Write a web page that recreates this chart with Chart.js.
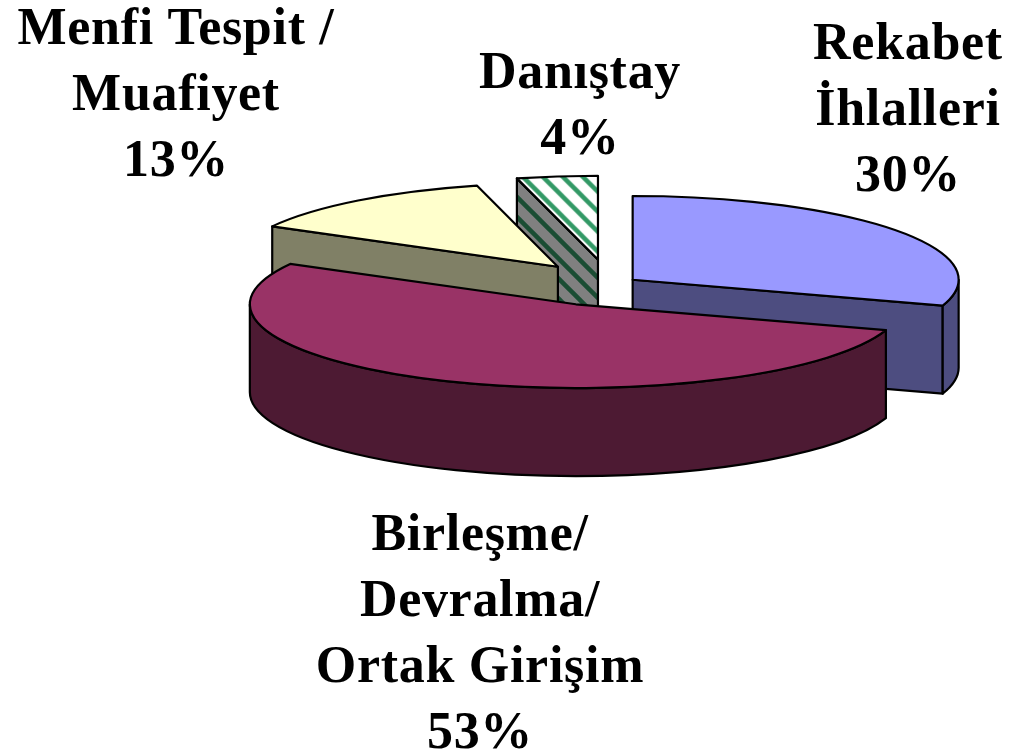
<!DOCTYPE html>
<html>
<head>
<meta charset="utf-8">
<script src="https://cdn.jsdelivr.net/npm/chart.js@4/dist/chart.umd.min.js"></script>
<style>
html, body { margin: 0; background: #fff; }
canvas { display: block; }
</style>
</head>
<body>
<canvas id="c" width="1010" height="755" style="width:1010px;height:755px"></canvas>
<script>
var categories = [
	["Rekabet", "İhlalleri"],
	["Birleşme/", "Devralma/", "Ortak Girişim"],
	["Menfi Tespit /", "Muafiyet"],
	["Danıştay"]
];
var values = [30, 53, 13, 4];

var topColors = ["#9999ff", "#993366", "#ffffcc", null];
var sideColors = ["#4d4d80", "#4d1a33", "#808066", null];
var explode = [28, 86, 85, 96]; // px on the page

// where the flattened pie goes on the page
var PIE_X = 610, PIE_Y = 284, PIE_RX = 326, TILT = 0.257, DEPTH = 88;
var drawOrder = [3, 2, 0, 1]; // back to front
var labelPos = [[908, 59], [480, 550], [176, 44], [580, 88]]; // first baseline
var LINE_H = 66;

function stripes(bg, fg) {
	var T = 20, p = document.createElement("canvas");
	p.width = T;
	p.height = T;
	var g = p.getContext("2d");
	g.fillStyle = bg;
	g.fillRect(0, 0, T, T);
	g.strokeStyle = fg;
	g.lineWidth = 4.5;
	for(var i = -1; i <= 1; i++) {
		g.beginPath();
		g.moveTo(i * T - T, -T);
		g.lineTo(i * T + 2 * T, 2 * T);
		g.stroke();
	}
	return g.createPattern(p, "repeat");
}

var hatchTop = stripes("#ffffff", "#339966");
var hatchSide = stripes("#808080", "#1a4d33");
topColors[3] = hatchTop;
sideColors[3] = hatchSide;

var pie3d = {
	id: "pie3d",
	beforeDatasetsDraw: function(chart) {
		var ctx = chart.ctx;
		var arcs = chart.getDatasetMeta(0).data;
		var s = PIE_RX / arcs[0].outerRadius;
		hatchTop.setTransform(new DOMMatrix().scale(1 / s, 1 / (s * TILT)));

		drawOrder.forEach(function(i) {
			var arc = arcs[i];
			var a0 = arc.startAngle, a1 = arc.endAngle;
			var mid = (a0 + a1) / 2;
			var ax = PIE_X + Math.cos(mid) * explode[i];
			var ay = PIE_Y + Math.sin(mid) * explode[i] * TILT;
			var ry = PIE_RX * TILT;
			var rim = function(a) {
				return [ax + PIE_RX * Math.cos(a), ay + ry * Math.sin(a)];
			};

			ctx.save();
			ctx.lineWidth = 2.2;
			ctx.lineJoin = "round";
			ctx.strokeStyle = "#000";
			ctx.fillStyle = sideColors[i];

			// cut faces that look at the viewer
			var m = rim(mid);
			[a0, a1].forEach(function(a) {
				var p = rim(a);
				if(Math.abs(p[0] - ax) < 1) return;
				var lineY = ay + (p[1] - ay) * (m[0] - ax) / (p[0] - ax);
				if(lineY < m[1]) return;
				ctx.beginPath();
				ctx.moveTo(ax, ay);
				ctx.lineTo(p[0], p[1]);
				ctx.lineTo(p[0], p[1] + DEPTH);
				ctx.lineTo(ax, ay + DEPTH);
				ctx.closePath();
				ctx.fill();
				ctx.stroke();
			});

			// outer wall, front half only
			var r0 = Math.max(a0, 0), r1 = Math.min(a1, Math.PI);
			if(r0 < r1) {
				ctx.beginPath();
				ctx.ellipse(ax, ay, PIE_RX, ry, 0, r0, r1);
				ctx.ellipse(ax, ay + DEPTH, PIE_RX, ry, 0, r1, r0, true);
				ctx.closePath();
				ctx.fill();
				ctx.stroke();
			}

			// top face is the library's own arc, squashed
			ctx.save();
			ctx.translate(ax, ay);
			ctx.scale(s, s * TILT);
			ctx.translate(-arc.x, -arc.y);
			arc.draw(ctx);
			ctx.restore();

			ctx.beginPath();
			ctx.moveTo(ax, ay);
			ctx.ellipse(ax, ay, PIE_RX, ry, 0, a0, a1);
			ctx.closePath();
			ctx.stroke();
			ctx.restore();
		});

		// labels
		ctx.save();
		ctx.fillStyle = "#000";
		ctx.font = "bold 52px 'Liberation Serif'";
		ctx.letterSpacing = "0.7px";
		ctx.textAlign = "center";
		ctx.textBaseline = "alphabetic";
		categories.forEach(function(lines, i) {
			lines.concat(values[i] + "%").forEach(function(t, j) {
				ctx.fillText(t, labelPos[i][0], labelPos[i][1] + j * LINE_H);
			});
		});
		ctx.restore();
		return false;
	}
};

new Chart(document.getElementById("c"), {
	type: "pie",
	data: {
		labels: categories.map(function(l) { return l.join(" "); }),
		datasets: [{
			data: values,
			backgroundColor: topColors,
			borderWidth: 0
		}]
	},
	options: {
		responsive: false,
		animation: false,
		layout: { padding: 0 },
		plugins: { legend: { display: false }, tooltip: { enabled: false } }
	},
	plugins: [pie3d]
});
</script>
</body>
</html>
